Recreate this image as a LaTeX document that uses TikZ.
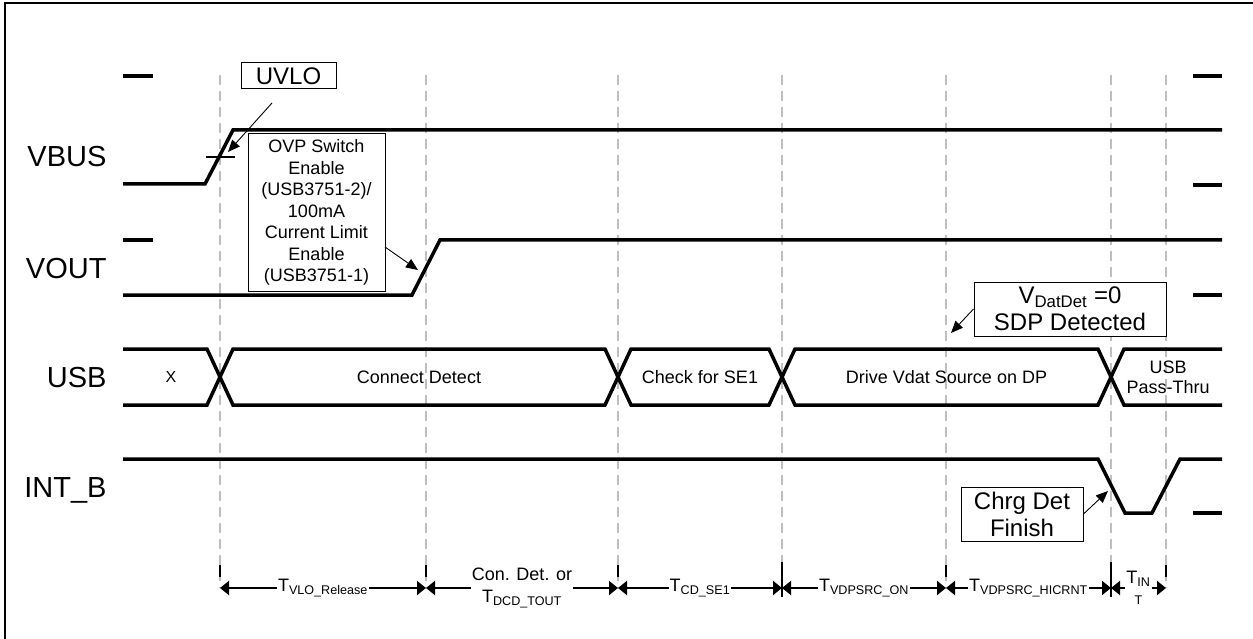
\documentclass[tikz,border=0pt]{standalone}
\usepackage{fontspec}
\setmainfont{Liberation Sans}
\usetikzlibrary{arrows.meta}
\newcommand{\bigtx}{\fontsize{24}{27}\selectfont}
\newcommand{\midtx}{\fontsize{18}{21.5}\selectfont}

\begin{document}
\begin{tikzpicture}[x=1pt,y=-1pt,
  sig/.style={line width=3.5pt},
  guide/.style={draw=gray!50,line width=2.5pt,dash pattern=on 10pt off 6pt},
  signame/.style={anchor=base east,font=\fontsize{29}{34}\selectfont},
  phase/.style={font=\midtx,align=center},
  note/.style={draw,fill=white,line width=1pt,inner sep=0pt,align=center},
  callout/.style={line width=0.9pt,-{Triangle[length=12pt,width=10pt]}},
  span/.style={line width=2pt,{Triangle[length=9pt,width=14pt]}-{Triangle[length=9pt,width=14pt]}},
  spanlbl/.style={fill=white,inner sep=1pt,font=\midtx,align=center}]
\useasboundingbox (0,0) rectangle (1253,639);
\draw[line width=2.5pt] (5,650) -- (5,3) -- (1260,3);

\foreach \x [count=\i from 0] in {220,426,618,782,946,1111,1166} {
  \coordinate (g\i) at (\x,75);
  \coordinate (d\i) at (\x,588);
  \draw[guide] (g\i) -- (d\i);
}
\foreach \x/\lo/\hi in {220/565/577,426/565/577,618/565/577,782/562/597,946/565/577,1111/562/597,1166/565/577}
  \draw[line width=2pt] (\x,\lo) -- (\x,\hi);

\node[signame] (vbus) at (110,167) {VBUS};
\node[signame] (vout) at (110,278) {VOUT};
\node[signame] (usb) at (110,387) {USB};
\node[signame] (intb) at (110,497) {INT\_B};

\foreach \y in {76,240} \draw[sig] (123,\y) -- (153,\y);
\foreach \y in {76,185,295,513} \draw[sig] (1193,\y) -- (1222,\y);

\draw[sig] (123,184) -- (205,184) -- (233,130) -- (1222,130);
\draw[line width=1.5pt] (206,157) -- (235,157);
\draw[sig] (123,295) -- (412,295) -- (440,240) -- (1222,240);

\draw[sig] (123,349) -- (207,349) -- (220,377) -- (207,405) -- (123,405);
\node[font=\fontsize{16}{19}\selectfont] (phx) at (171,377) {X};
\foreach \a/\b/\txt [count=\i] in {220/618/Connect Detect,618/782/Check for SE1,782/1111/Drive Vdat Source on DP} {
  \draw[sig] (\a,377) -- (\a+13,349) -- (\b-13,349) -- (\b,377) -- (\b-13,405) -- (\a+13,405) -- cycle;
  \node[phase] (ph\i) at ({(\a+\b)/2},377) {\txt};
}
\draw[sig] (1222,349) -- (1124,349) -- (1111,377) -- (1124,405) -- (1222,405);
\node[phase,font=\fontsize{18}{20}\selectfont] (phu) at (1168,377) {USB\\Pass-Thru};

\draw[sig] (123,459) -- (1098,459) -- (1125,513) -- (1152,513) -- (1180,459) -- (1222,459);

\node[note,minimum width=95pt,minimum height=26pt,font=\bigtx] (uvlo) at (288.5,76) {UVLO};
\node[note,minimum width=137pt,minimum height=157pt,font=\midtx] (ovp) at (316.5,212.5)
  {OVP Switch\\Enable\\(USB3751-2)/\\100mA\\Current Limit\\Enable\\(USB3751-1)};
\node[note,minimum width=192pt,minimum height=54pt,font=\bigtx] (sdp) at (1070,309)
  {V\textsubscript{DatDet} =0\\SDP Detected};
\node[note,minimum width=122pt,minimum height=54pt,font=\bigtx] (chrg) at (1022,514)
  {Chrg Det\\Finish};

\coordinate (uvloFrom) at (272,103);
\coordinate (uvloTo) at (228,152);
\coordinate (ovpFrom) at (385,247);
\coordinate (ovpTo) at (418,270);
\coordinate (sdpTo) at (951,333);
\coordinate (chrgTo) at (1108,491);
\draw[callout] (uvloFrom) -- (uvloTo);
\draw[callout] (ovpFrom) -- (ovpTo);
\draw[callout] (sdp.west) -- (sdpTo);
\draw[callout] (chrg.east) -- (chrgTo);

\draw[span] (d0) -- node[spanlbl] (s0) {T\textsubscript{VLO\_Release}} (d1);
\draw[span] (d1) -- node[spanlbl] (s1) {Con. Det. or\\T\textsubscript{DCD\_TOUT}} (d2);
\draw[span] (d2) -- node[spanlbl] (s2) {T\textsubscript{CD\_SE1}} (d3);
\draw[span] (d3) -- node[spanlbl] (s3) {T\textsubscript{VDPSRC\_ON}} (d4);
\draw[span] (d4) -- node[spanlbl] (s4) {T\textsubscript{VDPSRC\_HICRNT}} (d5);
\draw[span] (d5) -- node[spanlbl] (s5) {T\textsubscript{IN}\\{\fontsize{12.6}{14}\selectfont T}} (d6);
\end{tikzpicture}
\end{document}
